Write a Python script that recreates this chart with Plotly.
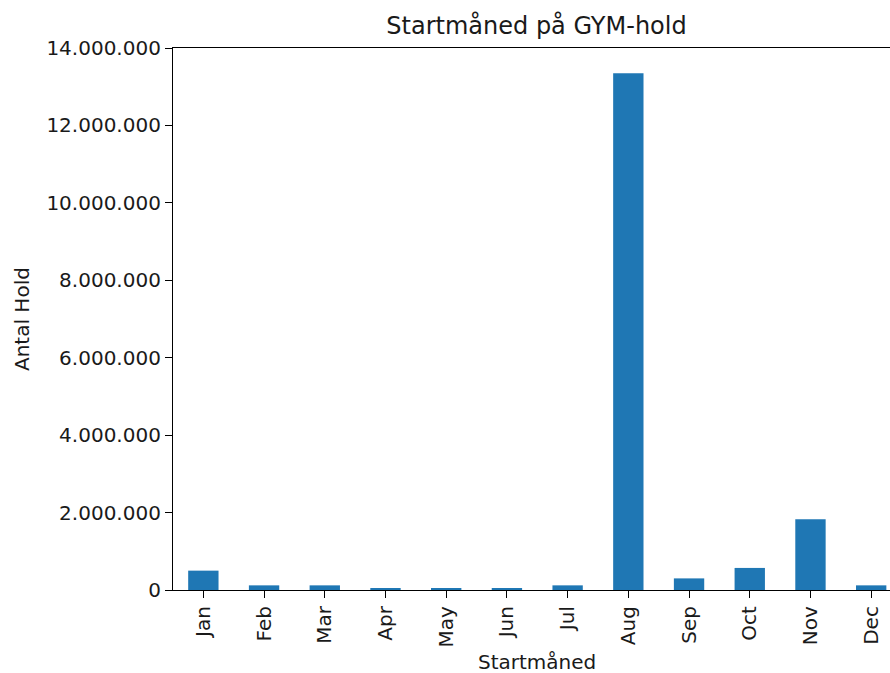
import plotly.graph_objects as go

# Antal hold pr. startmåned
maaneder = ["Jan", "Feb", "Mar", "Apr", "May", "Jun", "Jul", "Aug", "Sep", "Oct", "Nov", "Dec"]
antal_hold = [500000, 120000, 120000, 45000, 45000, 45000, 120000, 13350000, 300000, 570000, 1830000, 120000]

y_ticks = [0, 2000000, 4000000, 6000000, 8000000, 10000000, 12000000, 14000000]

FONT = "DejaVu Sans"

fig = go.Figure(go.Bar(
    x=list(range(len(maaneder))),
    y=antal_hold,
    width=0.5,
    marker=dict(color="#1f77b4", line=dict(width=0)),
))

fig.update_layout(
    width=890, height=673,
    margin=dict(l=173, r=0, t=48, b=83),
    plot_bgcolor="white", paper_bgcolor="white",
    separators=",.",
    font=dict(family=FONT, size=20, color="#1a1a1a"),
    showlegend=False,
    title=dict(text="Startmåned på GYM-hold", font=dict(size=24),
               xref="paper", x=0.507, xanchor="center",
               yref="container", y=1 - 26 / 673, yanchor="middle"),
)

fig.update_xaxes(
    range=[-0.5, 11.31],
    tickmode="array", tickvals=list(range(len(maaneder))), ticktext=maaneder,
    tickangle=-90,
    ticks="outside", ticklen=7, tickwidth=1.2, tickcolor="black",
    showline=True, linecolor="black", linewidth=1.2, mirror=True,
    showgrid=False, zeroline=False,
)
fig.update_yaxes(
    range=[0, 14000000],
    tickmode="array", tickvals=y_ticks, tickformat=",d",
    ticks="outside", ticklen=7, tickwidth=1.2, tickcolor="black",
    showline=True, linecolor="black", linewidth=1.2,
    showgrid=False, zeroline=False,
)

# aksetitler som annotationer for at styre placeringen
fig.add_annotation(text="Startmåned", xref="paper", yref="paper",
                   x=0.507, y=-(662 - 590) / 542, xanchor="center", yanchor="middle",
                   showarrow=False, font=dict(size=20))
fig.add_annotation(text="Antal Hold", xref="paper", yref="paper",
                   x=(22 - 173) / 717, y=0.5, xanchor="center", yanchor="middle",
                   textangle=-90, showarrow=False, font=dict(size=20))

# fjern sidens standardmargen, så figuren fylder vinduet
fig.write_html("out.html", config={"displayModeBar": False},
               post_script="document.body.style.margin='0';")
